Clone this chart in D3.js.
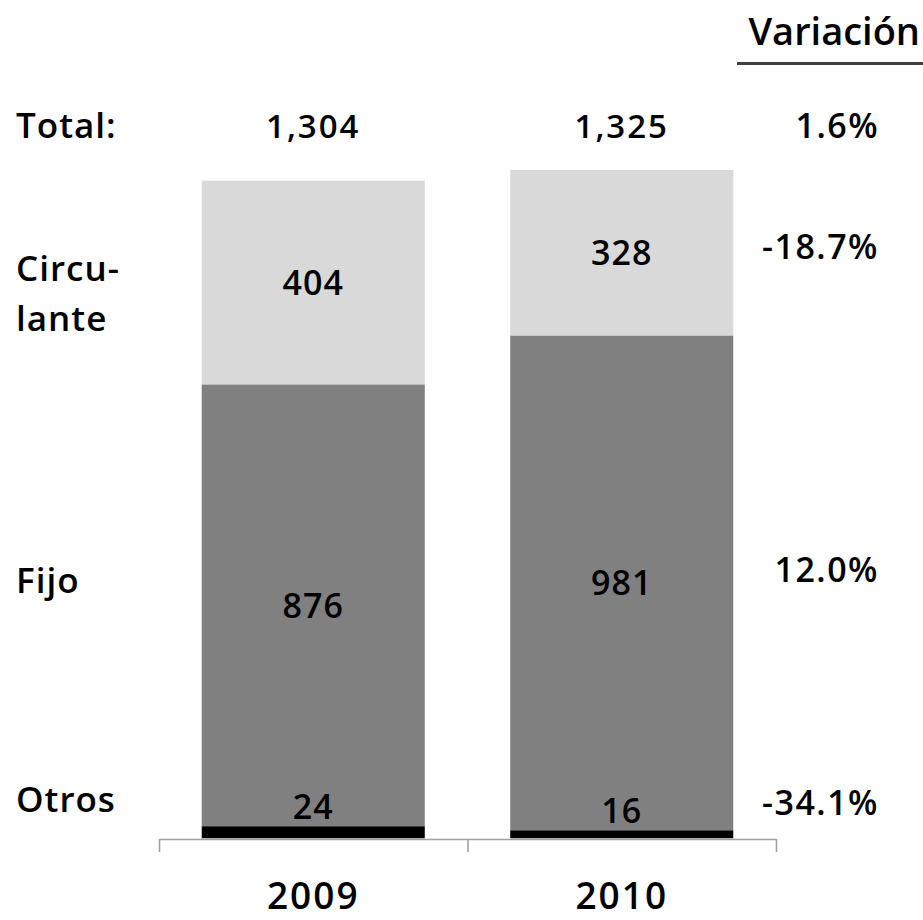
<!DOCTYPE html>
<html>
<head>
<meta charset="utf-8">
<script src="https://cdn.jsdelivr.net/npm/d3@7"></script>
<style>
  body { margin: 0; background: #fff; }
  text { font-family: "Open Sans", sans-serif; fill: #000; }
</style>
</head>
<body>
<script>
// data
var years = ["2009", "2010"];
var segments = ["Otros", "Fijo", "Circulante"];
var otros = [24, 16];
var fijo = [876, 981];
var circulante = [404, 328];
var totals = ["1,304", "1,325"];
var variacion = ["1.6%", "-18.7%", "12.0%", "-34.1%"];

var width = 923, height = 920;
var colors = {Otros: "#000000", Fijo: "#808080", Circulante: "#d9d9d9"};

var rows = years.map(function(y, i) {
  return {year: y, Otros: otros[i], Fijo: fijo[i], Circulante: circulante[i]};
});
var stack = d3.stack().keys(segments)(rows);
var yMax = d3.max(rows, function(d) { return d.Otros + d.Fijo + d.Circulante; });

var svg = d3.select("body").append("svg")
    .attr("width", width)
    .attr("height", height);

var base = 838.3;
var x = d3.scaleBand().domain(years).range([159, 776]).padding(0);
var y = d3.scaleLinear().domain([0, yMax]).range([base, 170]);
var barW = x.bandwidth() * 0.723;
var barX = function(yr) { return x(yr) + (x.bandwidth() - barW) / 2; };

// bars
svg.append("g").selectAll("g")
    .data(stack)
  .enter().append("g")
    .attr("fill", function(d) { return colors[d.key]; })
  .selectAll("rect")
    .data(function(d) { return d; })
  .enter().append("rect")
    .attr("x", function(d) { return barX(d.data.year); })
    .attr("width", barW)
    .attr("y", function(d) { return y(d[1]); })
    .attr("height", function(d) { return y(d[0]) - y(d[1]); });

// axis with ticks on the category edges
var xEdge = d3.scaleLinear().domain([0, years.length]).range(x.range());
var axis = svg.append("g")
    .attr("transform", "translate(0," + (base + 0.7) + ")")
    .call(d3.axisBottom(xEdge).tickValues(d3.range(years.length + 1)).tickSize(13).tickSizeOuter(0).tickFormat(""));
axis.selectAll("path, line").attr("stroke", "#a0a0a0").attr("stroke-width", 1.6);

// year labels
svg.append("g").selectAll("text")
    .data(years)
  .enter().append("text")
    .attr("x", function(d) { return x(d) + x.bandwidth() / 2; })
    .attr("y", 909)
    .attr("text-anchor", "middle")
    .style("font-size", "37px")
    .style("font-weight", 600)
    .style("letter-spacing", "2px")
    .text(function(d) { return d; });

// values inside the Fijo and Circulante segments
stack.forEach(function(s) {
  if (s.key === "Otros") return;
  svg.append("g").selectAll("text")
      .data(s)
    .enter().append("text")
      .attr("x", function(d) { return x(d.data.year) + x.bandwidth() / 2; })
      .attr("y", function(d) { return (y(d[0]) + y(d[1])) / 2; })
      .attr("dy", "0.36em")
      .attr("text-anchor", "middle")
      .style("font-size", "34px")
      .style("font-weight", 600)
      .style("letter-spacing", "1px")
      .text(function(d) { return d.data[s.key]; });
});

// Otros values sit above the thin black slice
svg.append("g").selectAll("text")
    .data(stack[0])
  .enter().append("text")
    .attr("x", function(d) { return x(d.data.year) + x.bandwidth() / 2; })
    .attr("y", function(d) { return y(d[1]) - 7; })
    .attr("text-anchor", "middle")
    .style("font-size", "34px")
    .style("font-weight", 600)
    .style("letter-spacing", "1px")
    .text(function(d) { return d.data.Otros; });

// totals row
svg.append("g").selectAll("text")
    .data(totals)
  .enter().append("text")
    .attr("x", function(d, i) { return x(years[i]) + x.bandwidth() / 2; })
    .attr("y", 138)
    .attr("text-anchor", "middle")
    .style("font-size", "33px")
    .style("font-weight", 600)
    .style("letter-spacing", "2px")
    .text(function(d) { return d; });

// left labels
var leftLabels = [
  {t: "Total:", y: 138},
  {t: "Circu-", y: 281},
  {t: "lante", y: 331},
  {t: "Fijo", y: 593},
  {t: "Otros", y: 812}
];
svg.append("g").selectAll("text")
    .data(leftLabels)
  .enter().append("text")
    .attr("x", 16)
    .attr("y", function(d) { return d.y; })
    .style("font-size", "35px")
    .style("font-weight", 600)
    .style("letter-spacing", "1px")
    .text(function(d) { return d.t; });

// variation column
svg.append("text")
    .attr("x", 920)
    .attr("y", 45)
    .attr("text-anchor", "end")
    .style("font-size", "38px")
    .style("font-weight", 600)
    .text("Variación");
svg.append("line")
    .attr("x1", 737).attr("x2", 923)
    .attr("y1", 63.5).attr("y2", 63.5)
    .attr("stroke", "#404040")
    .attr("stroke-width", 3);

var varY = [138, 259, 582, 815];
svg.append("g").selectAll("text")
    .data(variacion)
  .enter().append("text")
    .attr("x", 879)
    .attr("y", function(d, i) { return varY[i]; })
    .attr("text-anchor", "end")
    .style("font-size", "34px")
    .style("font-weight", 600)
    .style("letter-spacing", "1.5px")
    .text(function(d) { return d; });
</script>
</body>
</html>
